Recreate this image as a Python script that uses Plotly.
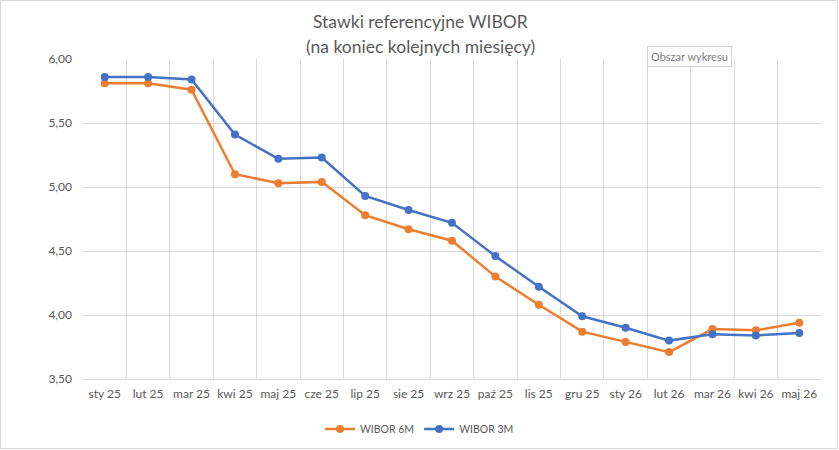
import plotly.graph_objects as go

months = ["sty 25", "lut 25", "mar 25", "kwi 25", "maj 25", "cze 25", "lip 25", "sie 25",
          "wrz 25", "paź 25", "lis 25", "gru 25", "sty 26", "lut 26", "mar 26", "kwi 26", "maj 26"]
wibor_6m = [5.81, 5.81, 5.76, 5.10, 5.03, 5.04, 4.78, 4.67, 4.58, 4.30, 4.08, 3.87, 3.79, 3.71, 3.89, 3.88, 3.94]
wibor_3m = [5.86, 5.86, 5.84, 5.41, 5.22, 5.23, 4.93, 4.82, 4.72, 4.46, 4.22, 3.99, 3.90, 3.80, 3.85, 3.84, 3.86]
title_lines = ["Stawki referencyjne WIBOR", "(na koniec kolejnych miesięcy)"]

W, H = 839, 450
ML, MR, MT, MB = 83, 18, 59, 71
pw = W - ML - MR
ph = H - MT - MB

font_fam = "Lato, Open Sans, sans-serif"
gray = "#595959"


def cy(pix):
    """pixel y (from top) -> container y"""
    return 1 - pix / H


def cx(pix):
    return pix / W


fig = go.Figure()
fig.add_trace(go.Scatter(x=months, y=wibor_6m, name="WIBOR 6M", mode="lines+markers",
                         line=dict(color="#ED7D31", width=2.5),
                         marker=dict(symbol="circle", size=8, color="#ED7D31")))
fig.add_trace(go.Scatter(x=months, y=wibor_3m, name="WIBOR 3M", mode="lines+markers",
                         line=dict(color="#4472C4", width=2.5),
                         marker=dict(symbol="circle", size=8, color="#4472C4")))

fig.update_layout(
    width=W, height=H,
    margin=dict(l=ML, r=MR, t=MT, b=MB, autoexpand=False),
    paper_bgcolor="white", plot_bgcolor="white",
    separators=", ",
    font=dict(family=font_fam, color=gray, size=12),
    showlegend=True,
    legend=dict(orientation="h", xref="container", yref="container",
                x=0.5, xanchor="center", y=cy(429), yanchor="middle",
                font=dict(size=10.5, color=gray), traceorder="normal",
                itemwidth=30, tracegroupgap=0),
    xaxis=dict(type="category", range=[-0.5, len(months) - 0.5], tickson="boundaries",
               showgrid=True, gridcolor="#D9D9D9", gridwidth=1, tickangle=0, automargin=False,
               showline=True, linecolor="#D9D9D9", linewidth=1, ticks="",
               ticklabelstandoff=4, tickfont=dict(size=12, color=gray)),
    yaxis=dict(range=[3.5, 6.0], dtick=0.5, tick0=3.5, tickformat=".2f", automargin=False,
               showgrid=True, gridcolor="#D9D9D9", gridwidth=1, zeroline=False,
               showline=False, ticks="", ticklabelstandoff=10,
               tickfont=dict(size=12, color=gray)),
)

# title lines
for txt, yp in zip(title_lines, [22, 46]):
    fig.add_annotation(xref="paper", yref="paper", x=(420 - ML) / pw, y=(MT + ph - yp) / ph, text=txt,
                       showarrow=False, xanchor="center", yanchor="middle",
                       font=dict(family=font_fam, size=17.5, color=gray))

# outer chart border
fig.add_shape(type="rect", xref="paper", yref="paper",
              x0=(0.5 - ML) / pw, x1=(W - 1.5 - ML) / pw,
              y0=(MT + ph - (H - 1.5)) / ph, y1=(MT + ph - 0.5) / ph,
              line=dict(color="#D9D9D9", width=1), fillcolor="rgba(0,0,0,0)", layer="above")

# "Obszar wykresu" tooltip
fig.add_annotation(xref="paper", yref="paper",
                   x=(689 - ML) / pw, y=(MT + ph - 56) / ph, text="Obszar wykresu", showarrow=False,
                   font=dict(size=11, color="#808080", family=font_fam),
                   bgcolor="white", bordercolor="#D0D0D0", borderwidth=1, borderpad=3,
                   xanchor="center", yanchor="middle")

fig.write_html("out.html")
